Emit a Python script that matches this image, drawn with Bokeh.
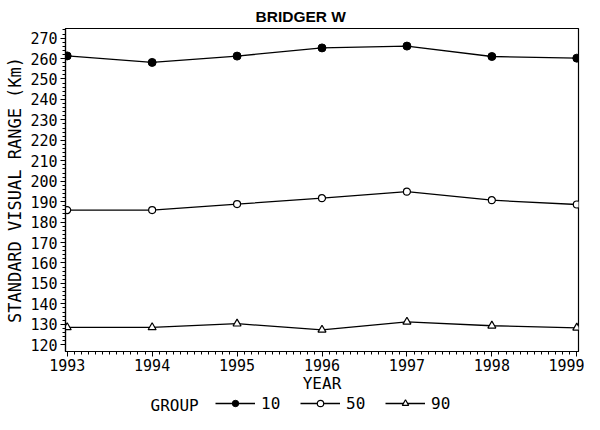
from bokeh.plotting import figure
from bokeh.layouts import column
from bokeh.models import Legend, LegendItem, Label, FixedTicker, Range1d
from bokeh.embed import file_html
from bokeh.resources import INLINE

years = [1993, 1994, 1995, 1996, 1997, 1998, 1999]
g10 = [261.3, 258.1, 261.2, 265.2, 266.1, 261.0, 260.2]
g50 = [185.9, 185.9, 188.8, 191.7, 194.9, 190.7, 188.6]
g90 = [128.5, 128.5, 130.3, 127.3, 131.2, 129.3, 128.3]
group_names = ["10", "50", "90"]
y_ticks = [120, 130, 140, 150, 160, 170, 180, 190, 200, 210, 220, 230, 240, 250, 260, 270]
x_ticks = years

MONO = "DejaVu Sans Mono"
FS = "15px"

p = figure(width=584, height=395, output_backend="svg", toolbar_location=None,
           x_range=Range1d(1992.98, 1999.02), y_range=Range1d(116.7, 274.7),
           min_border_left=65, min_border_right=6, min_border_top=28, min_border_bottom=43)

p.title.text = "BRIDGER W"
p.title.align = "left"
p.title.offset = 190
p.title.text_font = "Liberation Sans"
p.title.text_font_style = "bold"
p.title.text_font_size = "15.5px"
p.title.text_color = "black"
p.title.standoff = 8

p.grid.visible = False
p.outline_line_color = "black"
p.outline_line_width = 1.2
p.background_fill_color = "white"
p.border_fill_color = "white"

for ax in (p.xaxis[0], p.yaxis[0]):
    ax.axis_line_color = "black"
    ax.axis_line_width = 1.2
    ax.major_tick_line_color = "black"
    ax.minor_tick_line_color = "black"
    ax.major_tick_out = 5
    ax.major_tick_in = 0
    ax.minor_tick_out = 3
    ax.minor_tick_in = 0
    ax.major_label_text_font = MONO
    ax.major_label_text_font_size = FS
    ax.major_label_text_color = "black"
    ax.axis_label_text_font = MONO
    ax.axis_label_text_font_style = "normal"
    ax.axis_label_text_color = "black"

p.xaxis.axis_label_text_font_size = "16px"
p.yaxis.axis_label_text_font_size = "17px"
p.xaxis.ticker = FixedTicker(ticks=x_ticks, minor_ticks=[y + m / 12 for y in years[:-1] for m in range(1, 12)])
p.yaxis.ticker = FixedTicker(ticks=y_ticks, minor_ticks=[t + d for t in y_ticks for d in (2, 4, 6, 8)])
p.xaxis.axis_label = "YEAR"
p.yaxis.axis_label = "STANDARD VISUAL RANGE (Km)"
p.xaxis.major_label_standoff = 2
p.xaxis.axis_label_standoff = 0
p.yaxis.major_label_standoff = 3
p.yaxis.axis_label_standoff = 2

line_kw = dict(line_color="black", line_width=1.3)
m10_kw = dict(marker="circle", size=8, fill_color="black", line_color="black")
m50_kw = dict(marker="circle", size=7, fill_color="white", line_color="black", line_width=1.2)
m90_kw = dict(marker="triangle", size=8, fill_color="white", line_color="black", line_width=1.2)

p.line(years, g10, **line_kw)
p.scatter(years, g10, **m10_kw)
p.line(years, g50, **line_kw)
p.scatter(years, g50, **m50_kw)
p.line(years, g90, **line_kw)
p.scatter(years, g90, **m90_kw)

# legend strip below the chart (its series lie outside its ranges; only the key is shown)
q = figure(width=584, height=19, output_backend="svg", toolbar_location=None,
           x_range=Range1d(0, 1), y_range=Range1d(0, 1),
           min_border_left=0, min_border_right=0, min_border_top=0, min_border_bottom=0)
q.axis.visible = False
q.grid.visible = False
q.outline_line_color = None
q.background_fill_color = "white"
q.border_fill_color = "white"

l10 = q.line(years, g10, **line_kw)
s10 = q.scatter(years, g10, **m10_kw)
l50 = q.line(years, g50, **line_kw)
s50 = q.scatter(years, g50, **m50_kw)
l90 = q.line(years, g90, **line_kw)
s90 = q.scatter(years, g90, **m90_kw)

legend = Legend(items=[
    LegendItem(label=group_names[0], renderers=[l10, s10]),
    LegendItem(label=group_names[1], renderers=[l50, s50]),
    LegendItem(label=group_names[2], renderers=[l90, s90]),
], orientation="horizontal", location=(150, 1.5))
legend.label_text_font = MONO
legend.label_text_font_size = "16px"
legend.label_text_color = "black"
legend.glyph_width = 40
legend.glyph_height = 16
legend.label_height = 16
legend.label_standoff = 6
legend.spacing = 19
legend.padding = 0
legend.margin = 0
legend.border_line_color = None
legend.background_fill_alpha = 0
q.add_layout(legend)

q.add_layout(Label(x=85, y=9.5, x_units="screen", y_units="screen", text="GROUP",
                   text_font=MONO, text_font_size="16px", text_color="black",
                   text_baseline="middle"))

open("out.html", "w").write(file_html(column(p, q, spacing=0), INLINE))
